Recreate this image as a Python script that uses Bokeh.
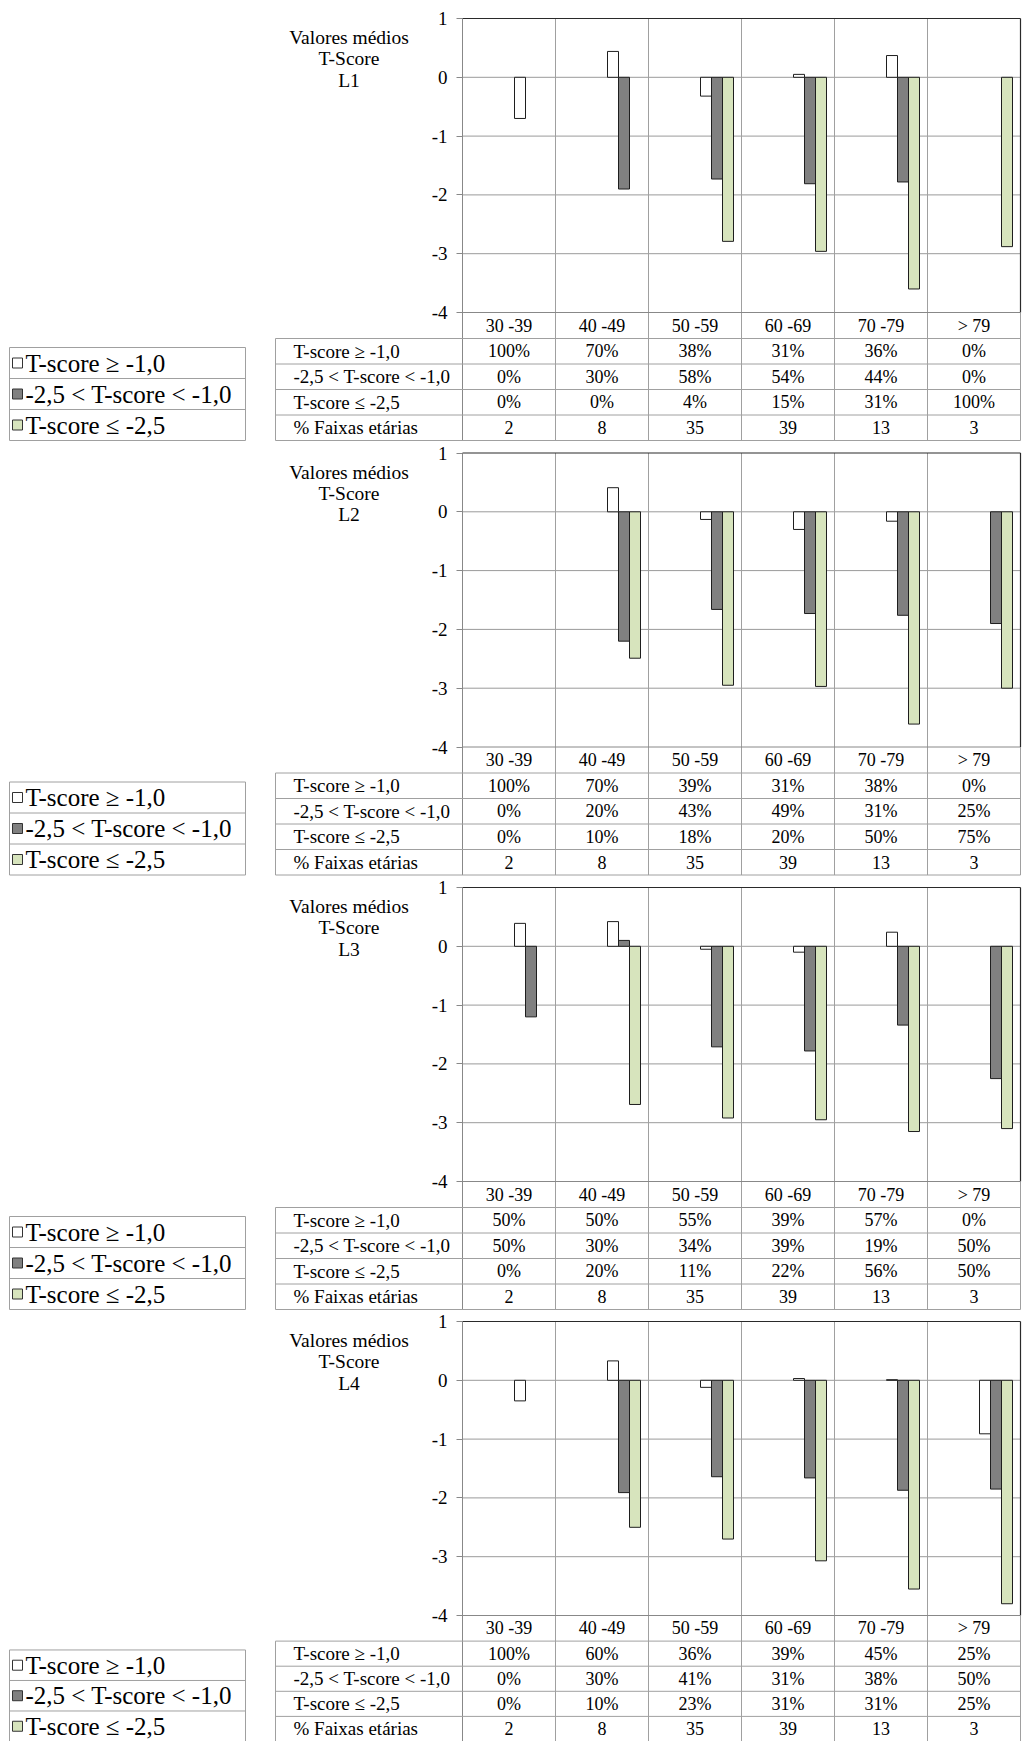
from bokeh.plotting import figure
from bokeh.layouts import column
from bokeh.models import FixedTicker, ColumnDataSource
from bokeh.core.properties import value
from bokeh.embed import file_html
from bokeh.resources import INLINE

# ---------------- data ----------------
CATEGORIES = ["30 -39", "40 -49", "50 -59", "60 -69", "70 -79", "> 79"]
SERIES_NAMES = ["T-score \u2265 -1,0", "-2,5 < T-score < -1,0", "T-score \u2264 -2,5"]
ROW_LABELS = SERIES_NAMES + ["% Faixas et\u00e1rias"]
Y_TICKS = [1, 0, -1, -2, -3, -4]
TITLE_LINES = ["Valores m\u00e9dios", "T-Score"]
AGE_SHARE = [2, 8, 35, 39, 13, 3]

# mean T-score per group (white / gray / green bars)
L1_normal = [-0.70, 0.44, -0.32, 0.05, 0.37, 0.0]
L1_osteopenia = [0.0, -1.90, -1.73, -1.81, -1.78, 0.0]
L1_osteoporosis = [0.0, 0.0, -2.79, -2.96, -3.60, -2.88]

L2_normal = [0.0, 0.41, -0.13, -0.30, -0.16, 0.0]
L2_osteopenia = [0.0, -2.20, -1.66, -1.73, -1.76, -1.90]
L2_osteoporosis = [0.0, -2.49, -2.95, -2.97, -3.61, -3.00]

L3_normal = [0.39, 0.42, -0.05, -0.10, 0.24, 0.0]
L3_osteopenia = [-1.20, 0.10, -1.71, -1.78, -1.34, -2.25]
L3_osteoporosis = [0.0, -2.69, -2.92, -2.95, -3.15, -3.10]

L4_normal = [-0.35, 0.33, -0.12, 0.03, 0.01, -0.91]
L4_osteopenia = [0.0, -1.91, -1.64, -1.66, -1.87, -1.85]
L4_osteoporosis = [0.0, -2.50, -2.70, -3.07, -3.55, -3.80]

# table percentages per group
L1_pct_normal = [100, 70, 38, 31, 36, 0]
L1_pct_osteopenia = [0, 30, 58, 54, 44, 0]
L1_pct_osteoporosis = [0, 0, 4, 15, 31, 100]

L2_pct_normal = [100, 70, 39, 31, 38, 0]
L2_pct_osteopenia = [0, 20, 43, 49, 31, 25]
L2_pct_osteoporosis = [0, 10, 18, 20, 50, 75]

L3_pct_normal = [50, 50, 55, 39, 57, 0]
L3_pct_osteopenia = [50, 30, 34, 39, 19, 50]
L3_pct_osteoporosis = [0, 20, 11, 22, 56, 50]

L4_pct_normal = [100, 60, 36, 39, 45, 25]
L4_pct_osteopenia = [0, 30, 41, 31, 38, 50]
L4_pct_osteoporosis = [0, 10, 23, 31, 31, 25]

PANELS = [
    ("L1", [L1_normal, L1_osteopenia, L1_osteoporosis], [L1_pct_normal, L1_pct_osteopenia, L1_pct_osteoporosis]),
    ("L2", [L2_normal, L2_osteopenia, L2_osteoporosis], [L2_pct_normal, L2_pct_osteopenia, L2_pct_osteoporosis]),
    ("L3", [L3_normal, L3_osteopenia, L3_osteoporosis], [L3_pct_normal, L3_pct_osteopenia, L3_pct_osteoporosis]),
    ("L4", [L4_normal, L4_osteopenia, L4_osteoporosis], [L4_pct_normal, L4_pct_osteopenia, L4_pct_osteoporosis]),
]

# ---------------- style / layout ----------------
FONT = "Liberation Serif"
BAR_COLORS = ["#ffffff", "#808080", "#d7e4bd"]
GRID = "#9a9a9a"
TABLE_LINE = "#a0a0a0"
W = 1022
PX_X = 93.0          # pixels per category
PLOT_LEFT = 462.0    # pixel position of the plot area inside the figure
BAR_W = 11.0 / PX_X
BAR_OFF = [11.0 / PX_X, 22.0 / PX_X, 33.0 / PX_X]

# (height, top offset, plot height, table height)
GEOM = [(443, 18.0, 294.0, 128.0), (434, 9.5, 294.0, 128.0),
        (435, 10.0, 294.0, 128.0), (429, 9.0, 294.0, 126.0)]


def px_x(px):
    return (px - PLOT_LEFT) / PX_X


def make_panel(region, means, pcts, geom):
    H, T, plot_h, table_h = geom
    ppu = plot_h / 5.0
    x0 = -PLOT_LEFT / PX_X
    x1 = x0 + W / PX_X
    y1 = 1 + T / ppu
    y0 = y1 - H / ppu

    p = figure(width=W, height=H, x_range=(x0, x1), y_range=(y0, y1),
               output_backend="svg", toolbar_location=None, min_border=0,
               x_axis_location=None, outline_line_color=None)
    p.grid.visible = False
    p.background_fill_color = "white"
    p.border_fill_color = "white"

    ax = p.yaxis[0]
    ax.fixed_location = 0
    ax.ticker = FixedTicker(ticks=Y_TICKS)
    ax.major_label_overrides = {t: str(t) for t in Y_TICKS}
    ax.axis_line_color = None
    ax.major_tick_in = 0
    ax.major_tick_out = 6
    ax.major_tick_line_color = "#888888"
    ax.minor_tick_line_color = None
    ax.major_label_standoff = 9
    ax.major_label_text_font = FONT
    ax.major_label_text_font_size = "19px"
    ax.major_label_text_color = "black"

    ymin = min(Y_TICKS)
    ymax = max(Y_TICKS)
    n = len(CATEGORIES)
    s = table_h / 128.0
    hdr = 26.0 * s
    rh = 25.5 * s

    def below(px):
        return ymin - px / ppu

    table_bottom = below(hdr + 4 * rh)

    # horizontal gridlines
    inner = [t for t in Y_TICKS if ymin < t < ymax]
    p.segment(x0=[0] * len(inner), x1=[n] * len(inner), y0=inner, y1=inner,
              line_color=GRID, line_width=1)
    # vertical category separators, through the table
    vx = list(range(1, n))
    p.segment(x0=vx, x1=vx, y0=[ymax] * len(vx), y1=[table_bottom] * len(vx),
              line_color=TABLE_LINE, line_width=1)

    # bars
    for vals, color, off in zip(means, BAR_COLORS, BAR_OFF):
        src = ColumnDataSource(dict(
            x=[i + 0.5 + off for i in range(n)],
            top=vals,
            alpha=[1.0 if v != 0 else 0.0 for v in vals]))
        p.vbar(x="x", top="top", bottom=0, width=BAR_W, source=src,
               fill_color=color, line_color="#1e1e1e", line_width=1,
               fill_alpha="alpha", line_alpha="alpha")

    # plot borders
    p.segment(x0=[0, 0], x1=[n, 0], y0=[ymin, ymax], y1=[ymin, table_bottom],
              line_color="#888888", line_width=1)
    p.segment(x0=[0, n], x1=[n, n], y0=[ymax, ymax], y1=[ymax, ymin],
              line_color="#2a2a2a", line_width=1.2)
    p.segment(x0=[n], x1=[n], y0=[ymin], y1=[table_bottom],
              line_color=TABLE_LINE, line_width=1)

    # title
    tl = TITLE_LINES + [region]
    p.text(x=[px_x(348.5)] * 3, y=[ymax - o / ppu for o in (19.0, 40.0, 61.5)],
           text=tl, text_align="center", text_baseline="middle",
           text_font=value(FONT), text_font_size="19.5px", text_color="black")

    # table
    tbl_left = px_x(275.0)
    bounds = [below(hdr + rh * k) for k in range(5)]
    p.segment(x0=[tbl_left] * 5, x1=[n] * 5, y0=bounds, y1=bounds,
              line_color=TABLE_LINE, line_width=1)
    p.segment(x0=[tbl_left], x1=[tbl_left], y0=[bounds[0]], y1=[bounds[-1]],
              line_color=TABLE_LINE, line_width=1)

    cx = [i + 0.5 for i in range(n)]
    p.text(x=cx, y=[below(hdr / 2)] * n, text=CATEGORIES, text_align="center",
           text_baseline="middle", text_font=value(FONT), text_font_size="18px",
           text_color="black")
    rows = [[f"{v}%" for v in r] for r in pcts] + [[str(v) for v in AGE_SHARE]]
    for r, (label, cells) in enumerate(zip(ROW_LABELS, rows)):
        yc = below(hdr + rh * (r + 0.5))
        p.text(x=[px_x(293.0)], y=[yc], text=[label], text_align="left",
               text_baseline="middle", text_font=value(FONT),
               text_font_size="19px", text_color="black")
        p.text(x=cx, y=[yc] * n, text=cells, text_align="center",
               text_baseline="middle", text_font=value(FONT),
               text_font_size="18px", text_color="black")

    # legend box
    leg_l, leg_r = px_x(9.0), px_x(245.0)
    lt = 35.0 * s
    lrh = 31.0 * s
    lb = [below(lt + lrh * k) for k in range(4)]
    p.segment(x0=[leg_l] * 4, x1=[leg_r] * 4, y0=lb, y1=lb,
              line_color=TABLE_LINE, line_width=1)
    p.segment(x0=[leg_l, leg_r], x1=[leg_l, leg_r], y0=[lb[0]] * 2, y1=[lb[-1]] * 2,
              line_color=TABLE_LINE, line_width=1)
    lyc = [below(lt + lrh * (k + 0.5)) for k in range(3)]
    p.scatter(x=[px_x(17.0)] * 3, y=lyc, marker="square", size=10,
              fill_color=BAR_COLORS, line_color="#333333", line_width=1)
    p.text(x=[px_x(25.0)] * 3, y=lyc, text=SERIES_NAMES, text_align="left",
           text_baseline="middle", text_font=value(FONT), text_font_size="25px",
           text_color="black")
    return p


figs = [make_panel(reg, m, pc, g) for (reg, m, pc), g in zip(PANELS, GEOM)]
layout = column(*figs, spacing=0)
open("out.html", "w").write(file_html(layout, INLINE))
